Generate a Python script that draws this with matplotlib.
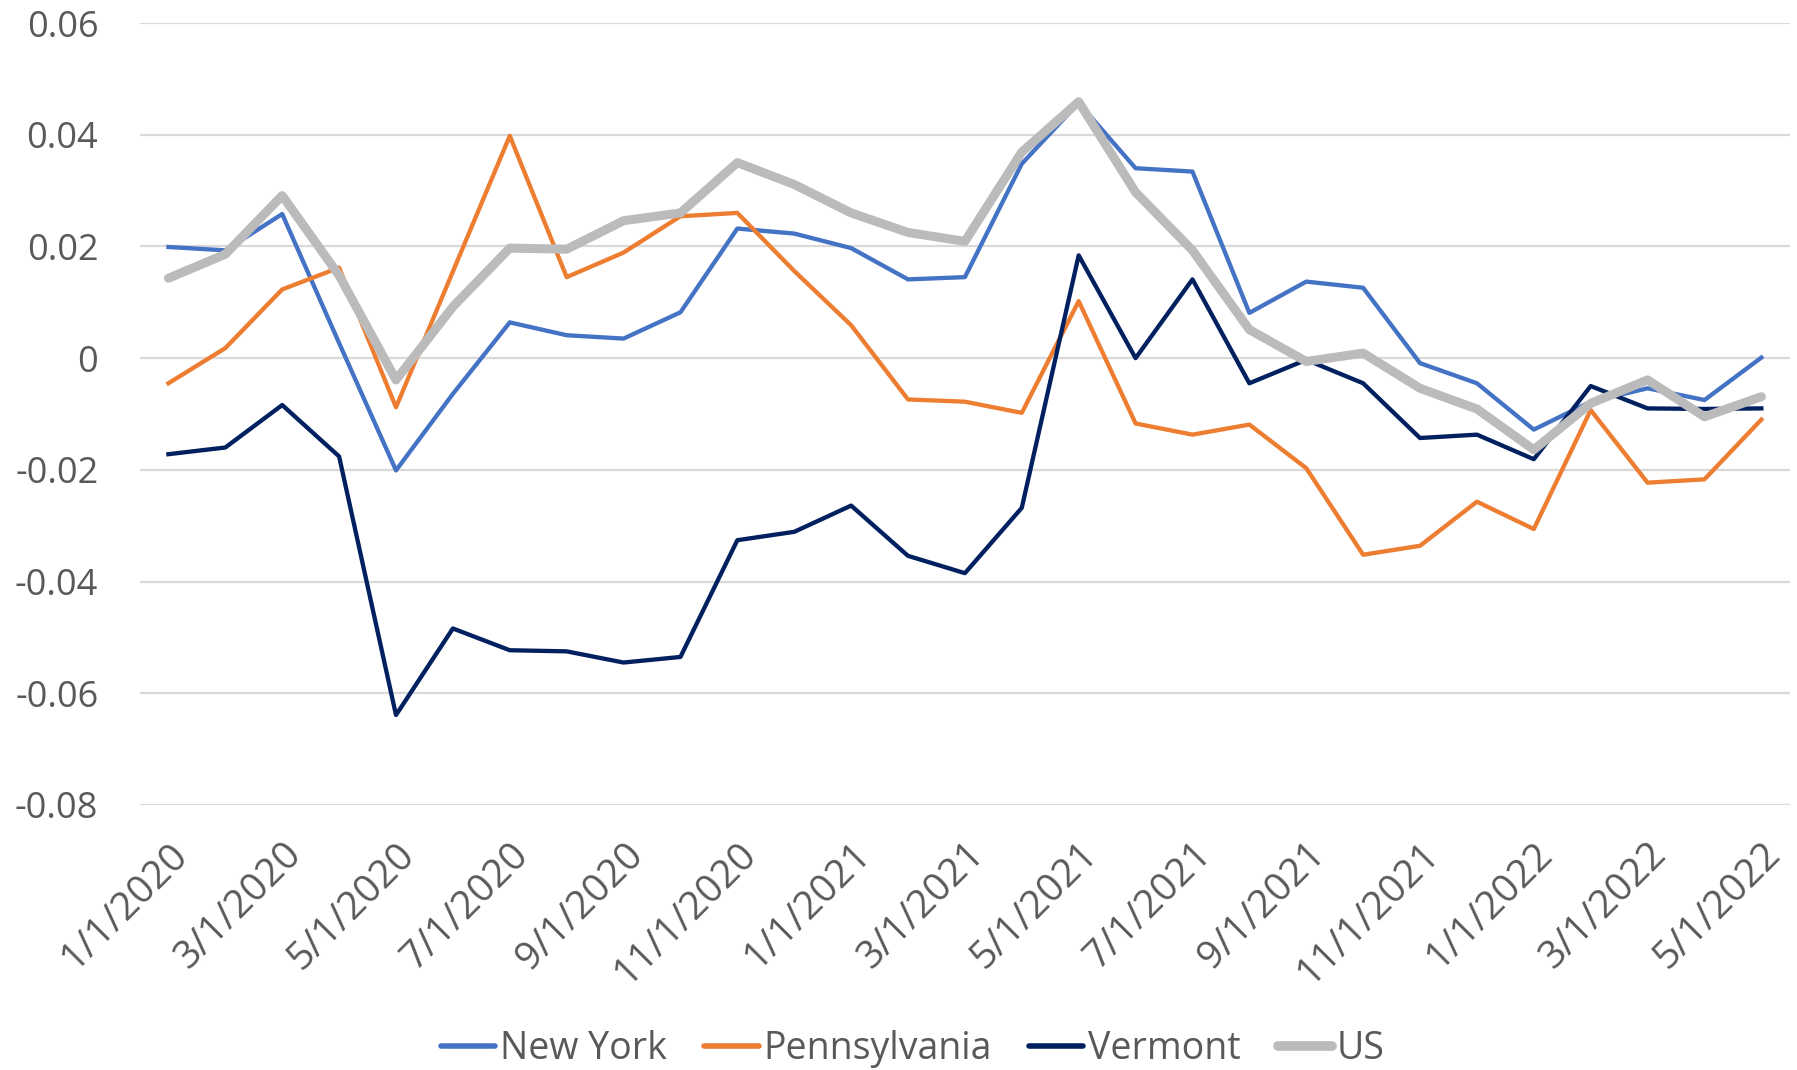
import matplotlib
matplotlib.use("Agg")
import matplotlib.pyplot as plt
import numpy as np

# Monthly values, 1/1/2020 .. 5/1/2022
months = [f"{m}/1/{y}" for y, ms in ((2020, range(1, 13)), (2021, range(1, 13)), (2022, range(1, 6))) for m in ms]

new_york = [0.0199, 0.0193, 0.0258, 0.0027, -0.0201, -0.0064, 0.0064, 0.0041, 0.0035, 0.0082,
            0.0232, 0.0223, 0.0197, 0.0141, 0.0145, 0.0348, 0.0457, 0.0340, 0.0334, 0.0081,
            0.0137, 0.0126, -0.0009, -0.0045, -0.0128, -0.0078, -0.0054, -0.0075, 0.0001]
pennsylvania = [-0.0045, 0.0018, 0.0123, 0.0162, -0.0088, 0.0155, 0.0398, 0.0145, 0.0189, 0.0254,
                0.0260, 0.0156, 0.0059, -0.0074, -0.0078, -0.0098, 0.0102, -0.0117, -0.0137, -0.0119,
                -0.0197, -0.0352, -0.0336, -0.0257, -0.0306, -0.0093, -0.0223, -0.0217, -0.0110]
vermont = [-0.0172, -0.0160, -0.0084, -0.0176, -0.0639, -0.0484, -0.0523, -0.0525, -0.0545, -0.0535,
           -0.0326, -0.0311, -0.0264, -0.0354, -0.0385, -0.0268, 0.0184, 0.0000, 0.0141, -0.0045,
           -0.0003, -0.0045, -0.0143, -0.0137, -0.0181, -0.0050, -0.0090, -0.0091, -0.0090]
us = [0.0143, 0.0186, 0.0291, 0.0148, -0.0039, 0.0092, 0.0197, 0.0195, 0.0246, 0.0260,
      0.0350, 0.0311, 0.0260, 0.0225, 0.0209, 0.0369, 0.0459, 0.0297, 0.0193, 0.0051,
      -0.0006, 0.0009, -0.0054, -0.0091, -0.0164, -0.0081, -0.0039, -0.0105, -0.0069]

y_ticks = [0.06, 0.04, 0.02, 0, -0.02, -0.04, -0.06, -0.08]
y_labels = ["0.06", "0.04", "0.02", "0", "-0.02", "-0.04", "-0.06", "-0.08"]

plt.rcParams["font.family"] = ["Open Sans", "DejaVu Sans"]
text_color = "#595959"

fig = plt.figure(figsize=(17.97, 10.70), dpi=100)
ax = fig.add_axes([0.0779, 0.2477, 0.9181, 0.7308])

x = np.arange(len(months))
ax.plot(x, new_york, color="#4472C4", lw=3.1, label="New York", solid_joinstyle="round")
ax.plot(x, pennsylvania, color="#ED7D31", lw=3.1, label="Pennsylvania", solid_joinstyle="round")
ax.plot(x, vermont, color="#002060", lw=3.1, label="Vermont", solid_joinstyle="round")
ax.plot(x, us, color="#BBBBBB", lw=6.5, label="US", solid_joinstyle="round", solid_capstyle="round")

ax.set_xlim(-0.5, len(months) - 0.5)
ax.set_ylim(-0.08, 0.06)
ax.set_yticks(y_ticks)
ax.set_yticklabels(y_labels)
ax.set_xticks(x[::2])
ax.set_xticklabels(months[::2], rotation=45, ha="right", rotation_mode="anchor")
ax.tick_params(axis="both", length=0, labelsize=26, colors=text_color)
ax.tick_params(axis="x", pad=22, labelsize=28)
ax.tick_params(axis="y", pad=30)
ax.grid(axis="y", color="#D9D9D9", lw=1.6)
ax.set_axisbelow(True)
for s in ax.spines.values():
    s.set_visible(False)

leg = fig.legend(loc="lower center", bbox_to_anchor=(0.508, -0.03), ncol=4, frameon=False,
                 fontsize=27, handlelength=1.45, handletextpad=0.12, columnspacing=1.0)
for t in leg.get_texts():
    t.set_color(text_color)
# legend swatches are drawn a bit heavier than the plot lines
for h, w in zip(leg.legend_handles, [4, 4, 4, 7]):
    h.set_solid_capstyle("round")
    h.set_linewidth(w)

fig.savefig("out.png", dpi=100)
